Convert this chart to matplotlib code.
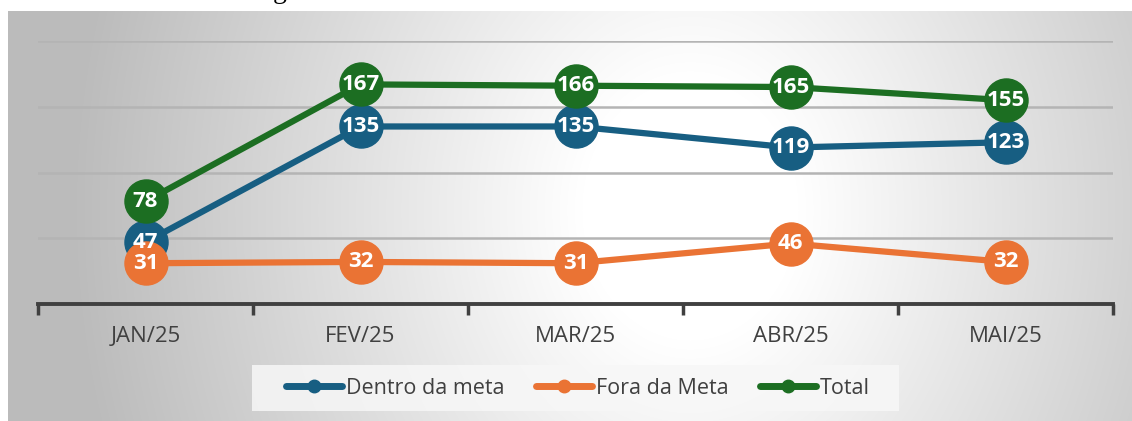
import numpy as np
import matplotlib
matplotlib.use("Agg")
from matplotlib import pyplot as plt
from matplotlib.lines import Line2D
from matplotlib.patches import Rectangle

# data
months = ["JAN/25", "FEV/25", "MAR/25", "ABR/25", "MAI/25"]
dentro = [47, 135, 135, 119, 123]
fora = [31, 32, 31, 46, 32]
total = [78, 167, 166, 165, 155]

c_dentro = "#175e82"
c_fora = "#ea7334"
c_total = "#1c6e22"

plt.rcParams['font.family'] = ['Open Sans', 'DejaVu Sans']

W, H = 1132, 421
fig = plt.figure(figsize=(W / 100, H / 100), dpi=100)

# radial-ish gradient panel behind the chart
x0, y0 = 8, 11
bg = fig.add_axes([x0 / W, 0, 1 - x0 / W, (H - y0) / H])
px = np.arange(x0, W)
py = np.arange(y0, H)
gx, gy = np.meshgrid(px, py)
r = np.sqrt(((gx - 690) / 540.0) ** 2 + ((gy - 210) / 650.0) ** 2)
t = np.clip((r - 0.2) / 0.95, 0, 1)
g = (255 - 68 * t) / 255.0
img = np.dstack([g, g, g])
bg.imshow(img, aspect='auto', extent=[0, 1, 0, 1], origin='upper')
bg.axis('off')

# light box behind the legend
fig.patches.append(Rectangle((252 / W, 1 - 411 / H), 647 / W, 46 / H,
                             transform=fig.transFigure, facecolor='#f7f7f7',
                             alpha=0.85, edgecolor='none', zorder=1))

# title text that is cut off at the top
fig.text(280 / W, 1 + 2 / H, "g", family="Liberation Serif", fontsize=20,
         ha='center', va='baseline', color='black')

ax = fig.add_axes([38 / W, 1 - 304 / H, 1075 / W, (304 - 41) / H])
ax.set_facecolor('none')
x = np.arange(len(months))

series = [(dentro, c_dentro, "Dentro da meta", 3),
          (fora, c_fora, "Fora da Meta", 4),
          (total, c_total, "Total", 5)]
for vals, col, name, z in series:
    ax.plot(x, vals, color=col, lw=4.5, marker='o', ms=31,
            solid_capstyle='round', zorder=z, clip_on=False)
for vals, col, name, z in series:
    for xi, v in zip(x, vals):
        ax.text(xi, v, str(v), color='white', fontsize=16, fontweight='bold',
                ha='center', va='center', zorder=10)

ax.set_xlim(-0.5, len(months) - 0.5)
ax.set_ylim(0, 200)
ax.set_yticks([50, 100, 150, 200])
ax.yaxis.grid(True, color='#b4b4b4', lw=1.8)
ax.set_axisbelow(True)
ax.tick_params(axis='y', left=False, labelleft=False)
ax.set_xticks(x)
ax.set_xticklabels(months, fontsize=16, color='#404040')
ax.set_xticks(np.arange(-0.5, len(months)), minor=True)
ax.tick_params(axis='x', which='major', length=0, pad=16)
ax.tick_params(axis='x', which='minor', length=8, width=2.5, color='#404040')
for s in ['top', 'right', 'left']:
    ax.spines[s].set_visible(False)
ax.spines['bottom'].set_color('#404040')
ax.spines['bottom'].set_linewidth(2.8)

handles = [Line2D([0], [0], color=col, lw=5, marker='o', ms=9,
                  solid_capstyle='round') for _, col, _, _ in series]
labels = [name for _, _, name, _ in series]
leg = fig.legend(handles, labels, loc='center', ncol=3,
                 bbox_to_anchor=(578 / W, 1 - 388 / H), fontsize=15.5,
                 frameon=False, handlelength=2.6,
                 handletextpad=0.15, columnspacing=1.5, borderpad=0.3)
for txt in leg.get_texts():
    txt.set_color('#404040')

fig.savefig("out.png", dpi=100)
